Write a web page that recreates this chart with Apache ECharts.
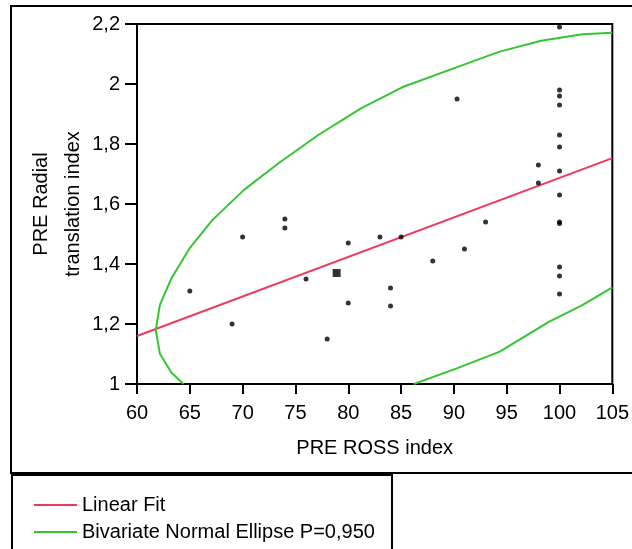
<!DOCTYPE html>
<html>
<head>
<meta charset="utf-8">
<script src="https://cdn.jsdelivr.net/npm/echarts@6/dist/echarts.min.js"></script>
<style>
  html, body { margin: 0; padding: 0; background: #fff; }
  #chart { width: 632px; height: 549px; }
</style>
</head>
<body>
<div id="chart"></div>
<script>
// PRE ROSS index vs PRE Radial translation index
var points = [
    [65, 1.31], [69, 1.2], [70, 1.49], [74, 1.55], [74, 1.52], [76, 1.35],
    [78, 1.15], [80, 1.47], [80, 1.27], [83, 1.49], [85, 1.49], [84, 1.32],
    [84, 1.26], [88, 1.41], [90.3, 1.95], [91, 1.45], [93, 1.54],
    [98, 1.73], [98, 1.67],
    [100, 2.19], [100, 1.98], [100, 1.96], [100, 1.93], [100, 1.83], [100, 1.79],
    [100, 1.71], [100, 1.63], [100, 1.54], [100, 1.535], [100, 1.39], [100, 1.36],
    [100, 1.3]
];
var bigPoints = [[78.9, 1.37]];

var linearFit = [[60, 1.16], [105, 1.753]];

// ellipse traced as a polyline, clipped by the frame into two arcs
var ellipseUpper = [
    [64.4, 1.0], [63.25, 1.038], [62.16, 1.102], [61.78, 1.18], [62.16, 1.263],
    [63.25, 1.352], [64.97, 1.452], [67.15, 1.547], [70.13, 1.647], [73.4, 1.736],
    [77.16, 1.83], [81.2, 1.919], [85.1, 1.989], [89.97, 2.052], [94.34, 2.108],
    [98.25, 2.144], [102.16, 2.166], [105, 2.171]
];
var ellipseLower = [
    [86.2, 1.0], [90.28, 1.052], [94.34, 1.108], [99.03, 1.208], [102.16, 1.263], [105, 1.322]
];

var xTicks = [60, 65, 70, 75, 80, 85, 90, 95, 100, 105];
var yTicks = [1, 1.2, 1.4, 1.6, 1.8, 2, 2.2];

var fitName = 'Linear Fit';
var ellipseName = 'Bivariate Normal Ellipse P=0,950';

var font = 'Liberation Sans, Arial, sans-serif';
var chart = echarts.init(document.getElementById('chart'));

chart.setOption({
    backgroundColor: '#fff',
    animation: false,
    textStyle: { fontFamily: font },
    grid: {
        left: 137, right: 15, top: 24, bottom: 165,
        show: true,
        borderColor: '#000',
        borderWidth: 2
    },
    xAxis: {
        type: 'value',
        min: xTicks[0],
        max: xTicks[xTicks.length - 1],
        interval: 5,
        name: 'PRE ROSS index',
        nameLocation: 'middle',
        nameGap: 54,
        nameTextStyle: { color: '#000', fontSize: 20, fontFamily: font },
        axisLine: { lineStyle: { color: '#000', width: 2 } },
        axisTick: { length: 10, lineStyle: { color: '#000', width: 2 } },
        axisLabel: { color: '#000', fontSize: 20, margin: 19, fontFamily: font },
        splitLine: { show: false }
    },
    yAxis: {
        type: 'value',
        min: yTicks[0],
        max: yTicks[yTicks.length - 1],
        interval: 0.2,
        name: 'PRE Radial\ntranslation index',
        nameLocation: 'middle',
        nameRotate: 90,
        nameGap: 48,
        nameMoveOverlap: false,
        nameTextStyle: { color: '#000', fontSize: 20, lineHeight: 32, fontFamily: font },
        axisLine: { lineStyle: { color: '#000', width: 2 } },
        axisTick: { length: 12, lineStyle: { color: '#000', width: 2 } },
        axisLabel: {
            color: '#000', fontSize: 20, margin: 17, fontFamily: font,
            formatter: function (v) { return String(Math.round(v * 10) / 10).replace('.', ','); }
        },
        splitLine: { show: false }
    },
    legend: {
        orient: 'vertical',
        left: 29,
        top: 490,
        itemWidth: 43,
        itemHeight: 2,
        itemGap: 7,
        icon: 'rect',
        data: [fitName, ellipseName],
        textStyle: { color: '#000', fontSize: 20, fontFamily: font }
    },
    graphic: [
        {
            type: 'rect',
            shape: { x: 11, y: 6, width: 640, height: 467 },
            style: { fill: 'none', stroke: '#000', lineWidth: 2 },
            silent: true
        },
        {
            type: 'rect',
            shape: { x: 12, y: 475, width: 380, height: 100 },
            style: { fill: 'none', stroke: '#000', lineWidth: 2 },
            silent: true
        }
    ],
    series: [
        {
            name: fitName,
            type: 'line',
            data: linearFit,
            symbol: 'none',
            color: '#ee3a5c',
            lineStyle: { width: 2, color: '#ee3a5c' },
            z: 3
        },
        {
            name: ellipseName,
            type: 'line',
            data: ellipseUpper,
            symbol: 'none',
            color: '#33c633',
            lineStyle: { width: 2, color: '#33c633' },
            z: 3
        },
        {
            name: ellipseName,
            type: 'line',
            data: ellipseLower,
            symbol: 'none',
            color: '#33c633',
            lineStyle: { width: 2, color: '#33c633' },
            z: 3
        },
        {
            name: 'points',
            type: 'scatter',
            data: points,
            symbol: 'circle',
            symbolSize: 5,
            itemStyle: { color: '#000' },
            z: 4
        },
        {
            name: 'mean',
            type: 'scatter',
            data: bigPoints,
            symbol: 'rect',
            symbolSize: 8,
            itemStyle: { color: '#000' },
            z: 4
        }
    ]
});
</script>
</body>
</html>
